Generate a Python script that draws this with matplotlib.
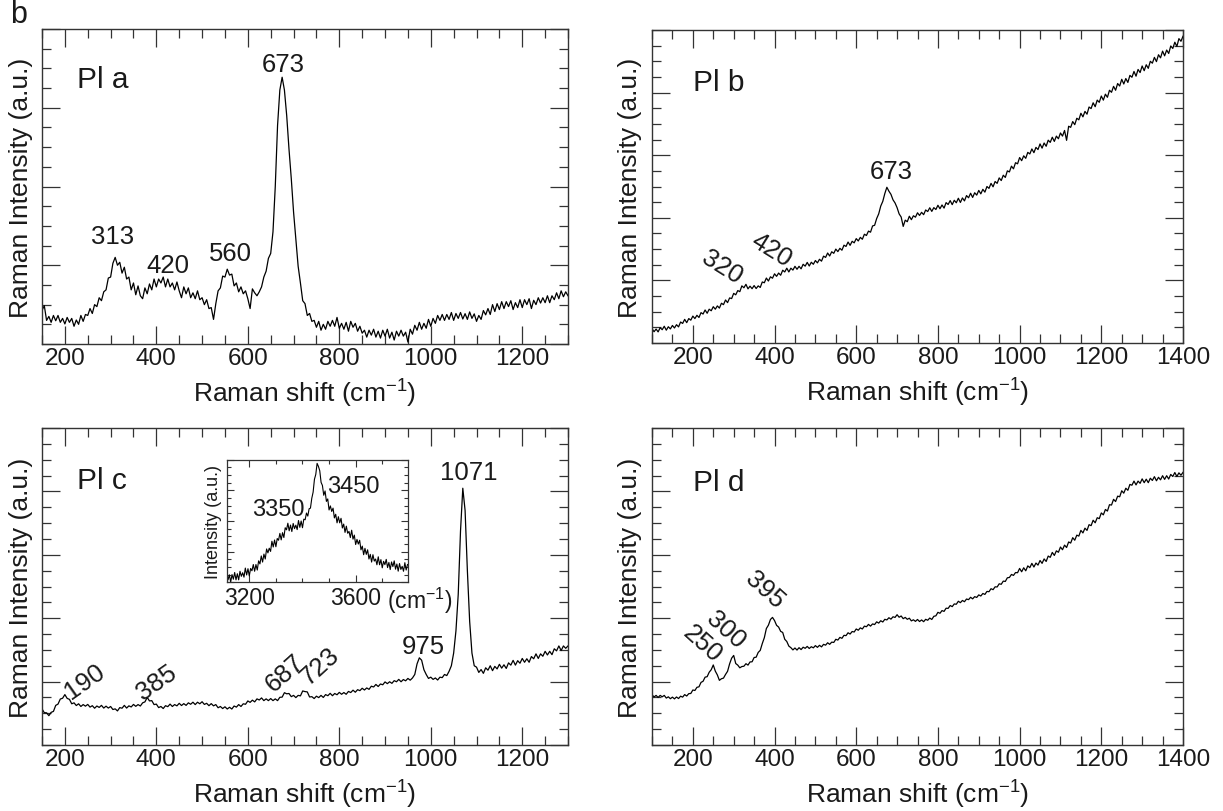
import numpy as np
import matplotlib
matplotlib.use("Agg")
import matplotlib.pyplot as plt
from matplotlib.ticker import MultipleLocator, FixedLocator, NullFormatter

plt.rcParams['font.family'] = ['Liberation Sans', 'DejaVu Sans']
plt.rcParams['mathtext.fontset'] = 'custom'
plt.rcParams['mathtext.rm'] = 'Liberation Sans'
plt.rcParams['mathtext.default'] = 'regular'

# ---------------- data ----------------
# Panel a: PI a, shift 150..1300 step 5
a_start, a_step = 150, 5
a_int = [
1.70,1.95,1.20,1.40,1.10,1.45,1.18,1.45,1.10,1.30,
1.02,1.35,1.10,1.30,0.90,1.22,1.00,1.45,1.15,1.50,
1.45,1.80,1.55,2.00,1.90,2.35,2.20,2.65,2.75,3.35,
3.40,4.10,4.40,4.00,4.15,3.60,3.90,3.30,3.40,2.75,
3.10,2.50,2.95,2.45,2.30,2.85,2.55,3.05,2.75,3.30,
2.90,3.30,3.10,3.40,2.90,3.30,2.90,3.10,2.75,3.15,
2.70,2.35,2.90,2.55,2.85,2.35,2.60,2.30,2.70,2.25,
2.35,2.00,2.25,1.80,1.85,1.25,2.05,2.70,2.85,3.45,
3.40,3.80,3.50,3.55,2.95,3.10,2.65,2.90,2.55,2.70,
2.30,1.80,2.80,2.60,2.45,2.65,2.90,3.40,3.70,4.35,
4.60,5.70,8.00,11.10,12.90,13.55,12.90,11.60,9.90,8.40,
6.70,5.35,3.95,3.10,2.20,2.05,1.45,1.55,1.15,1.20,
0.85,1.15,0.70,1.00,0.75,1.15,0.90,1.20,0.90,1.35,
0.80,1.05,0.75,1.10,0.65,1.15,0.85,1.05,0.65,0.90,
0.55,0.70,0.35,0.70,0.45,0.75,0.35,0.65,0.30,0.70,
0.40,0.75,0.30,0.60,0.20,0.65,0.40,0.70,0.40,0.60,
0.10,0.75,0.50,0.95,0.70,1.10,0.75,1.05,0.80,1.25,
0.90,1.30,1.05,1.45,1.20,1.50,1.20,1.50,1.25,1.60,
1.20,1.55,1.30,1.60,1.27,1.54,1.25,1.63,1.30,1.53,
1.15,1.45,1.25,1.70,1.48,1.80,1.50,2.00,1.65,2.05,
1.75,2.15,1.80,2.15,1.90,2.20,1.75,2.10,1.85,2.25,
1.85,2.25,2.00,2.30,1.80,2.22,2.00,2.35,2.08,2.35,
2.10,2.45,2.10,2.45,2.25,2.60,2.30,2.70,2.40,2.65,
2.45]

# Panel b: PI b, shift 100..1400 step 5
b_start, b_step = 100, 5
b_int = [
0.92,0.72,0.89,0.71,0.98,0.85,1.07,0.82,1.04,0.90,
1.12,0.96,1.17,1.03,1.34,1.25,1.51,1.30,1.56,1.46,
1.72,1.56,1.77,1.63,1.94,1.85,2.11,1.90,2.16,2.06,
2.32,2.16,2.37,2.23,2.54,2.45,2.75,2.58,2.88,2.84,
3.17,3.08,3.35,3.28,3.65,3.53,3.75,3.46,3.63,3.47,
3.67,3.48,3.65,3.55,3.90,3.85,4.15,3.96,4.23,4.14,
4.42,4.26,4.47,4.33,4.65,4.54,4.78,4.54,4.78,4.66,
4.90,4.71,4.90,4.74,5.03,4.91,5.15,4.92,5.16,5.03,
5.27,5.12,5.35,5.23,5.55,5.47,5.75,5.56,5.83,5.73,
6.00,5.84,6.05,5.93,6.25,6.17,6.45,6.24,6.50,6.40,
6.67,6.52,6.75,6.63,6.95,6.87,7.15,7.08,7.48,7.52,
7.95,8.25,8.75,9.05,9.55,9.95,9.70,9.50,9.15,8.95,
8.65,8.25,8.05,7.45,7.85,7.75,8.10,7.88,8.13,8.04,
8.32,8.15,8.35,8.20,8.50,8.40,8.64,8.41,8.65,8.53,
8.80,8.58,8.82,8.62,8.97,8.85,9.10,8.84,9.12,8.96,
9.25,8.98,9.27,9.08,9.42,9.28,9.57,9.30,9.60,9.45,
9.75,9.53,9.82,9.64,10.00,9.88,10.20,9.98,10.32,10.20,
10.55,10.38,10.72,10.58,11.00,10.93,11.30,11.13,11.52,11.45,
11.85,11.65,11.96,11.80,12.18,12.08,12.40,12.16,12.50,12.36,
12.72,12.45,12.78,12.57,12.96,12.82,13.15,12.88,13.22,13.05,
13.42,13.22,13.58,12.95,13.85,13.78,14.15,13.95,14.36,14.26,
14.68,14.45,14.80,14.62,15.08,14.98,15.35,15.10,15.52,15.38,
15.78,15.52,15.90,15.70,16.15,16.02,16.40,16.15,16.58,16.42,
16.85,16.55,16.90,16.65,17.10,16.98,17.35,17.05,17.48,17.28,
17.70,17.40,17.78,17.55,18.00,17.88,18.25,17.98,18.42,18.22,
18.65,18.35,18.72,18.50,18.98,18.82,19.22,18.95,19.45,19.28,
19.60]

# Panel c: PI c, shift 150..1300 step 5
c_start, c_step = 150, 5
c_int = [
2.28,2.04,2.03,1.85,2.06,2.12,2.50,2.58,2.90,2.95,
3.18,2.94,2.88,2.60,2.66,2.49,2.60,2.43,2.55,2.45,
2.56,2.39,2.48,2.32,2.46,2.37,2.50,2.33,2.45,2.33,
2.43,2.24,2.28,2.15,2.36,2.32,2.50,2.33,2.47,2.40,
2.56,2.44,2.55,2.46,2.66,2.72,3.00,2.78,2.80,2.55,
2.58,2.36,2.43,2.30,2.48,2.42,2.58,2.43,2.55,2.47,
2.63,2.49,2.61,2.50,2.66,2.57,2.70,2.55,2.70,2.60,
2.73,2.56,2.63,2.48,2.61,2.47,2.55,2.35,2.43,2.30,
2.41,2.27,2.38,2.27,2.46,2.39,2.55,2.43,2.60,2.57,
2.78,2.69,2.83,2.72,2.91,2.84,2.97,2.80,2.91,2.80,
2.93,2.80,2.91,2.80,3.01,3.02,3.30,3.23,3.25,3.05,
3.13,2.99,3.13,3.10,3.41,3.37,3.35,3.03,3.05,2.93,
3.08,2.99,3.13,3.00,3.18,3.11,3.26,3.11,3.25,3.17,
3.32,3.20,3.31,3.20,3.38,3.31,3.46,3.33,3.49,3.43,
3.58,3.47,3.60,3.51,3.71,3.66,3.82,3.69,3.85,3.80,
3.98,3.87,3.99,3.89,4.06,3.99,4.14,3.99,4.13,4.05,
4.20,4.09,4.23,4.45,5.12,5.50,5.35,4.75,4.45,4.20,
4.28,4.14,4.23,4.10,4.28,4.25,4.45,4.38,4.65,5.00,
5.80,7.20,9.50,13.50,16.20,14.80,11.00,7.80,5.80,5.00,
4.91,4.58,4.76,4.52,4.87,4.72,5.00,4.69,4.96,4.80,
5.09,4.85,5.06,4.83,5.18,5.04,5.34,5.04,5.32,5.16,
5.46,5.22,5.44,5.22,5.58,5.44,5.75,5.46,5.75,5.60,
5.91,5.68,5.91,5.70,6.07,5.94,6.25,5.96,6.25,6.10,
6.25]

# Panel c inset: shift 3115..3795 step 5
i_start, i_step = 3115, 5
i_int = [
0.90,0.20,0.61,0.02,0.63,0.25,0.80,0.20,0.70,0.20,
0.90,0.49,0.78,0.42,1.16,0.60,1.11,0.52,1.13,0.94,
1.45,0.90,1.45,1.00,1.75,1.50,2.15,1.65,2.30,1.90,
2.72,2.40,2.78,2.52,3.35,2.88,3.45,2.90,3.57,3.43,
3.99,3.46,4.05,3.65,4.45,4.28,4.82,4.20,4.67,4.14,
4.80,4.38,4.66,4.30,5.04,4.48,5.00,4.45,5.15,5.10,
5.65,5.40,6.00,6.05,6.85,7.35,8.40,8.80,9.70,9.45,
9.10,8.15,7.90,7.10,7.45,6.60,6.80,5.90,6.23,5.78,
6.05,5.25,5.55,4.85,5.35,4.85,5.22,4.43,4.75,4.07,
4.58,4.00,4.15,3.65,4.25,3.52,3.85,3.08,3.50,3.12,
3.43,2.65,2.95,2.25,2.77,2.28,2.65,1.90,2.28,1.65,
2.25,1.73,1.90,1.43,2.08,1.43,1.85,1.18,1.71,1.44,
1.87,1.20,1.62,1.04,1.66,1.28,1.75,1.07,1.49,0.91,
1.53,1.05,1.30,0.90,1.60,1.00,1.45]

# Panel d: PI d, shift 100..1400 step 5
d_start, d_step = 100, 5
d_int = [
3.17,3.03,3.13,3.00,3.13,3.04,3.13,2.96,3.04,2.92,
3.02,2.91,3.03,2.93,3.08,3.02,3.18,3.09,3.24,3.25,
3.47,3.44,3.64,3.67,3.95,4.02,4.28,4.31,4.59,4.75,
5.05,4.66,4.42,4.08,4.18,4.22,4.45,4.65,5.12,5.48,
5.65,5.14,5.04,4.87,4.95,4.97,5.13,5.04,5.24,5.25,
5.52,5.54,5.84,5.97,6.40,6.77,7.35,7.56,7.92,8.05,
7.85,7.55,7.44,7.17,7.10,6.67,6.53,6.24,6.14,6.00,
6.12,5.99,6.14,6.02,6.17,6.10,6.22,6.09,6.20,6.13,
6.27,6.16,6.29,6.19,6.35,6.30,6.45,6.35,6.49,6.47,
6.67,6.62,6.79,6.73,6.92,6.90,7.08,7.00,7.16,7.13,
7.32,7.24,7.39,7.32,7.50,7.46,7.61,7.50,7.64,7.60,
7.77,7.69,7.84,7.76,7.93,7.89,8.03,7.94,8.09,8.05,
8.22,8.06,8.14,7.97,8.05,7.93,8.00,7.83,7.90,7.80,
7.92,7.79,7.89,7.78,7.93,7.87,8.01,7.92,8.12,8.15,
8.37,8.31,8.48,8.43,8.63,8.62,8.80,8.73,8.90,8.88,
9.07,8.98,9.12,9.04,9.21,9.17,9.32,9.22,9.36,9.31,
9.47,9.40,9.56,9.50,9.69,9.67,9.86,9.80,9.98,9.97,
10.17,10.14,10.34,10.32,10.55,10.57,10.76,10.70,10.88,10.87,
11.14,10.93,11.18,10.99,11.30,11.19,11.46,11.23,11.48,11.35,
11.64,11.46,11.74,11.58,11.92,11.84,12.15,11.96,12.25,12.16,
12.49,12.32,12.61,12.46,12.81,12.74,13.08,12.92,13.24,13.18,
13.54,13.38,13.68,13.54,13.90,13.84,14.18,14.02,14.34,14.28,
14.64,14.52,14.86,14.76,15.16,15.14,15.50,15.36,15.70,15.66,
16.04,15.89,16.20,16.07,16.44,16.39,16.65,16.41,16.65,16.51,
16.79,16.55,16.77,16.55,16.83,16.69,16.93,16.67,16.89,16.73,
16.99,16.76,16.99,16.78,17.07,16.94,17.19,16.94,17.17,17.02,
17.20]

panel_names = ["Pl a", "Pl b", "Pl c", "Pl d"]
# peak labels: (text, x, y, rotation)
a_peaks = [("673", 677, 14.2, 0), ("313", 305, 5.5, 0), ("420", 425, 4.0, 0), ("560", 563, 4.6, 0)]
b_peaks = [("673", 685, 11.0, 0), ("320", 271, 4.86, -32), ("420", 393, 6.0, -32)]
c_peaks = [("1071", 1084, 17.2, 0), ("975", 984, 6.26, 0), ("190", 244, 4.06, 35),
           ("385", 401, 4.0, 35), ("687", 681, 4.6, 42), ("723", 758, 5.0, 42)]
d_peaks = [("395", 377, 9.84, -42), ("300", 281, 7.3, -42), ("250", 224, 6.4, -42)]
inset_peaks = [("3350", 3309, 5.98), ("3450", 3590, 7.88)]

# ---------------- figure ----------------
W, H = 1223, 812
fig = plt.figure(figsize=(W / 100, H / 100), dpi=100)

def px_axes(l, t, r, b):
    return fig.add_axes([l / W, 1 - b / H, (r - l) / W, (b - t) / H])

spine_c = '#333333'
txt_c = '#1a1a1a'
TICKFS = 17.5
LABFS = 19
NAMEFS = 21.5
PEAKFS = 18.5

def style(ax, xlim, ylim, ymaj, yminor=1):
    ax.set_xlim(*xlim)
    ax.set_ylim(*ylim)
    ax.xaxis.set_major_locator(MultipleLocator(200))
    ax.xaxis.set_minor_locator(MultipleLocator(50))
    ax.yaxis.set_major_locator(MultipleLocator(ymaj))
    ax.yaxis.set_minor_locator(MultipleLocator(yminor))
    ax.yaxis.set_major_formatter(NullFormatter())
    ax.tick_params(which='both', direction='in', top=True, right=True,
                   color=spine_c, width=0.9)
    ax.tick_params(which='major', length=13, labelsize=TICKFS, pad=2.5,
                   labelcolor=txt_c)
    ax.tick_params(which='minor', length=6.5)
    for s in ax.spines.values():
        s.set_color(spine_c)
        s.set_linewidth(1.0)

def labels(ax, hpx, wpx, left_off):
    ax.text(0.5, -49 / hpx, 'Raman shift (cm$^{-1}$)', transform=ax.transAxes,
            ha='center', va='center', fontsize=LABFS, color=txt_c)
    ax.text(-left_off / wpx, 0.5, 'Raman Intensity (a.u.)', transform=ax.transAxes,
            ha='center', va='center', rotation=90, fontsize=LABFS, color=txt_c)

def spectrum(start, step, vals):
    v = np.asarray(vals, dtype=float)
    return start + step * np.arange(len(v)), v

# panel a
axa = px_axes(42, 30, 568, 345)
x, y = spectrum(a_start, a_step, a_int)
axa.plot(x, y, color='black', lw=0.9)
style(axa, (150, 1300), (0, 16), 4)
labels(axa, 315, 526, 21)
axa.text(226, 13.45, panel_names[0], fontsize=NAMEFS, ha='left', va='center', color=txt_c)
for t, px_, py_, r in a_peaks:
    axa.text(px_, py_, t, fontsize=PEAKFS, ha='center', va='center', rotation=r, color=txt_c)

# panel b
axb = px_axes(652, 31, 1183, 344)
x, y = spectrum(b_start, b_step, b_int)
axb.plot(x, y, color='black', lw=0.9)
style(axb, (100, 1400), (0, 20), 4)
labels(axb, 313, 531, 22)
axb.text(200, 16.7, panel_names[1], fontsize=NAMEFS, ha='left', va='center', color=txt_c)
for t, px_, py_, r in b_peaks:
    axb.text(px_, py_, t, fontsize=PEAKFS, ha='center', va='center', rotation=r, color=txt_c)

# panel c
axc = px_axes(42, 429, 568, 746)
x, y = spectrum(c_start, c_step, c_int)
axc.plot(x, y, color='black', lw=0.9)
style(axc, (150, 1300), (0, 20), 4)
labels(axc, 317, 526, 21)
axc.text(226, 16.7, panel_names[2], fontsize=NAMEFS, ha='left', va='center', color=txt_c)
for t, px_, py_, r in c_peaks:
    axc.text(px_, py_, t, fontsize=PEAKFS, ha='center', va='center', rotation=r, color=txt_c)

# inset
axi = px_axes(226.7, 460.7, 408.3, 583.3)
x, y = spectrum(i_start, i_step, i_int)
axi.plot(x, y, color='black', lw=0.8)
axi.set_xlim(3115, 3798)
axi.set_ylim(0, 10)
axi.xaxis.set_major_locator(FixedLocator([3200, 3600]))
axi.xaxis.set_minor_locator(FixedLocator([3300, 3400, 3500, 3700]))
axi.yaxis.set_major_locator(MultipleLocator(2.5))
axi.yaxis.set_minor_locator(MultipleLocator(0.625))
axi.yaxis.set_major_formatter(NullFormatter())
axi.tick_params(which='both', direction='in', top=True, right=True, color=spine_c, width=0.8)
axi.tick_params(which='major', length=5, labelsize=16.5, pad=3, labelcolor=txt_c)
axi.tick_params(which='minor', length=3)
for s in axi.spines.values():
    s.set_color(spine_c)
    s.set_linewidth(0.9)
axi.text(-13.7 / 181.6, 0.5, 'Intensity (a.u.)', transform=axi.transAxes, rotation=90,
         ha='center', va='center', fontsize=13, color=txt_c)
axi.text(1.06, -0.14, '(cm$^{-1}$)', transform=axi.transAxes, ha='center', va='center',
         fontsize=16.5, color=txt_c)
for t, px_, py_ in inset_peaks:
    axi.text(px_, py_, t, fontsize=17, ha='center', va='center', color=txt_c)

# panel d
axd = px_axes(652, 429, 1183, 746)
x, y = spectrum(d_start, d_step, d_int)
axd.plot(x, y, color='black', lw=0.9)
style(axd, (100, 1400), (0, 20), 4)
labels(axd, 317, 531, 22)
axd.text(200, 16.6, panel_names[3], fontsize=NAMEFS, ha='left', va='center', color=txt_c)
for t, px_, py_, r in d_peaks:
    axd.text(px_, py_, t, fontsize=PEAKFS, ha='center', va='center', rotation=r, color=txt_c)

fig.text(19 / W, 1 - 15 / H, 'b', fontsize=22, ha='center', va='center', color=txt_c)

fig.savefig('out.png', dpi=100)
